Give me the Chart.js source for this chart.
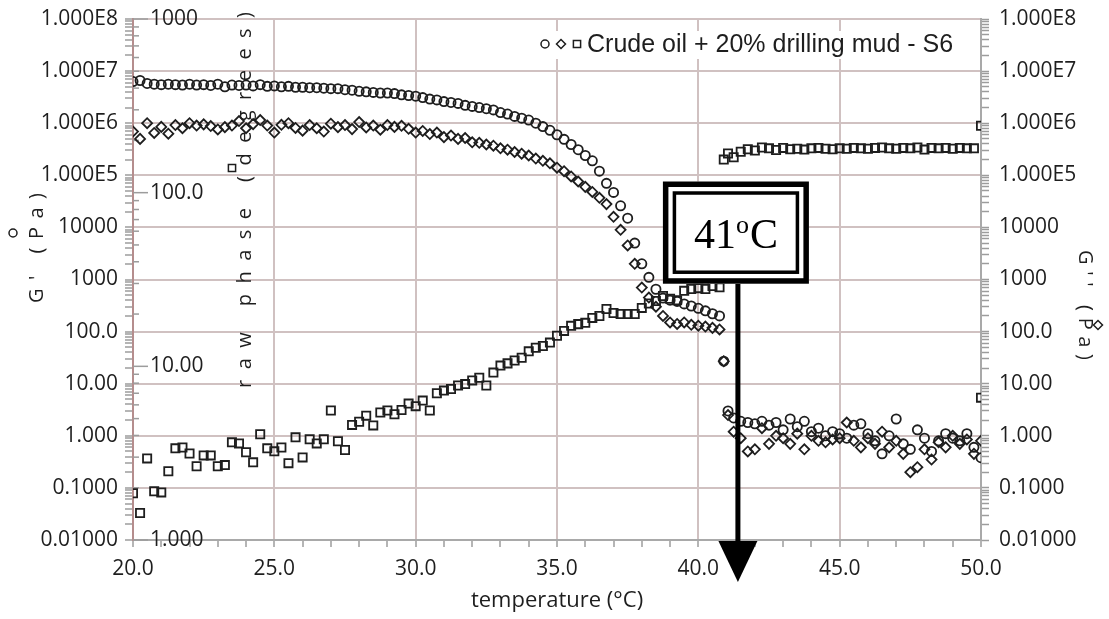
<!DOCTYPE html>
<html>
<head>
<meta charset="utf-8">
<script src="https://cdn.jsdelivr.net/npm/chart.js@4.4.1/dist/chart.umd.min.js"></script>
<style>
  html, body { margin: 0; padding: 0; background: #fff; }
  #wrap { width: 1109px; height: 619px; }
</style>
</head>
<body>
<div id="wrap"><canvas id="rheo" width="1109" height="619"></canvas></div>
<script>
// temperature (°C) of each measurement
const temps = [
  20.00, 20.25, 20.50, 20.75, 21.00, 21.25, 21.50, 21.75,
  22.00, 22.25, 22.50, 22.75, 23.00, 23.25, 23.50, 23.75,
  24.00, 24.25, 24.50, 24.75, 25.00, 25.25, 25.50, 25.75,
  26.00, 26.25, 26.50, 26.75, 27.00, 27.25, 27.50, 27.75,
  28.00, 28.25, 28.50, 28.75, 29.00, 29.25, 29.50, 29.75,
  30.00, 30.25, 30.50, 30.75, 31.00, 31.25, 31.50, 31.75,
  32.00, 32.25, 32.50, 32.75, 33.00, 33.25, 33.50, 33.75,
  34.00, 34.25, 34.50, 34.75, 35.00, 35.25, 35.50, 35.75,
  36.00, 36.25, 36.50, 36.75, 37.00, 37.25, 37.50, 37.75,
  38.00, 38.25, 38.50, 38.75, 39.00, 39.25, 39.50, 39.75,
  40.00, 40.25, 40.50, 40.75, 40.90, 41.05,
  41.25, 41.50, 41.75, 42.00, 42.25, 42.50, 42.75, 43.00,
  43.25, 43.50, 43.75, 44.00, 44.25, 44.50, 44.75, 45.00,
  45.25, 45.50, 45.75, 46.00, 46.25, 46.50, 46.75, 47.00,
  47.25, 47.50, 47.75, 48.00, 48.25, 48.50, 48.75, 49.00,
  49.25, 49.50, 49.75, 50.00
];

// G' (Pa) - circles
const gPrime = [
  6.3e6, 6.6e6, 5.8e6, 5.6e6, 5.5e6, 5.6e6, 5.5e6, 5.4e6,
  5.6e6, 5.4e6, 5.5e6, 5.3e6, 5.6e6, 5.0e6, 5.4e6, 5.3e6,
  5.4e6, 5.2e6, 5.5e6, 5.1e6, 5.2e6, 5.0e6, 5.1e6, 4.9e6,
  4.9e6, 4.8e6, 4.8e6, 4.7e6, 4.6e6, 4.6e6, 4.4e6, 4.3e6,
  4.1e6, 4.0e6, 3.9e6, 3.8e6, 3.8e6, 3.7e6, 3.5e6, 3.4e6,
  3.3e6, 3.1e6, 2.9e6, 2.8e6, 2.6e6, 2.5e6, 2.4e6, 2.2e6,
  2.1e6, 2.0e6, 1.9e6, 1.8e6, 1.6e6, 1.5e6, 1.35e6, 1.25e6,
  1.15e6, 1.0e6, 8.6e5, 7.3e5, 6.0e5, 4.9e5, 3.9e5, 3.1e5,
  2.4e5, 1.9e5, 1.2e5, 7.0e4, 4.7e4, 2.6e4, 1.5e4, 5.0e3,
  2.0e3, 1.1e3, 650, 440, 400, 380, 340, 310,
  280, 250, 220, 200, 27, 3.0,
  2.2, 1.9, 1.8, 1.7, 1.9, 1.6, 1.8, 1.3,
  2.1, 1.5, 1.9, 1.2, 1.4, 1.0, 1.2, 1.1,
  0.9, 1.6, 1.7, 1.1, 0.8, 0.45, 1.0, 2.1,
  0.7, 0.55, 1.3, 0.9, 0.5, 0.8, 1.1, 0.9,
  0.8, 1.1, 0.6, 0.38
];

// G'' (Pa) - diamonds
const gDouble = [
  6.9e5, 5.0e5, 1.0e6, 6.5e5, 8.5e5, 6.3e5, 9.2e5, 8.0e5,
  1.0e6, 9.0e5, 9.5e5, 8.8e5, 7.6e5, 8.4e5, 9.0e5, 1.1e6,
  8.0e5, 9.6e5, 1.15e6, 9.0e5, 6.6e5, 9.3e5, 1.0e6, 8.1e5,
  7.2e5, 9.2e5, 8.0e5, 6.9e5, 9.8e5, 8.4e5, 9.2e5, 7.7e5,
  1.05e6, 8.3e5, 9.0e5, 7.5e5, 9.2e5, 8.5e5, 8.9e5, 7.8e5,
  6.6e5, 7.1e5, 6.2e5, 6.6e5, 5.4e5, 5.8e5, 5.0e5, 5.2e5,
  4.3e5, 4.2e5, 3.9e5, 3.7e5, 3.3e5, 3.1e5, 2.8e5, 2.6e5,
  2.4e5, 2.1e5, 1.9e5, 1.7e5, 1.4e5, 1.2e5, 9.5e4, 7.6e4,
  6.0e4, 4.8e4, 3.7e4, 2.8e4, 1.6e4, 9.0e3, 4.5e3, 2.0e3,
  700, 450, 300, 200, 150, 140, 150, 135,
  130, 125, 118, 110, 27, 2.5,
  1.2, 0.9, 0.5, 0.55, 1.4, 0.7, 1.0, 0.9,
  0.7, 1.1, 0.55, 1.0, 0.8, 0.75, 0.85, 0.9,
  1.8, 0.8, 0.6, 0.9, 0.7, 1.2, 0.6, 0.8,
  0.45, 0.2, 0.25, 0.55, 0.35, 0.75, 0.6, 1.0,
  0.7, 0.85, 0.45, 0.8
];

// raw phase (degrees) - squares
const rawPhase = [
  1.86, 1.43, 2.95, 1.91, 1.88, 2.49, 3.37, 3.41,
  3.15, 2.66, 3.07, 3.07, 2.66, 2.70, 3.65, 3.60,
  3.20, 2.80, 4.06, 3.37, 3.24, 3.41, 2.77, 3.90,
  2.99, 3.80, 3.60, 3.80, 5.57, 3.70, 3.30, 4.60,
  4.80, 5.20, 4.57, 5.42, 5.57, 5.30, 5.60, 6.10,
  5.90, 6.35, 5.57, 7.00, 7.25, 7.40, 7.75, 7.90,
  8.30, 8.60, 7.75, 9.20, 10.1, 10.4, 10.8, 11.2,
  12.2, 12.8, 13.1, 13.7, 15.0, 16.0, 17.1, 17.5,
  17.8, 19.0, 19.5, 21.4, 20.3, 20.0, 20.0, 20.0,
  21.7, 23.0, 23.8, 25.4, 24.5, 24.0, 27.2, 27.9,
  28.2, 27.9, 29.0, 28.5, 155, 168,
  160, 172, 178, 175, 182, 180, 176, 181,
  178, 179, 177, 180, 181, 179, 178, 180,
  179, 181, 180, 179, 181, 182, 180, 179,
  181, 180, 182, 177, 181, 180, 181, 179,
  181, 180, 180, 243
];
// one more phase reading at the last temperature
const phaseExtraTemps = [50.0];
const phaseExtra = [6.6];

// tick labels
const xTickValues = [20, 25, 30, 35, 40, 45, 50];
const xTickLabels = ['20.0', '25.0', '30.0', '35.0', '40.0', '45.0', '50.0'];
const yTickLabels = ['0.01000', '0.1000', '1.000', '10.00', '100.0', '1000', '10000',
  '1.000E5', '1.000E6', '1.000E7', '1.000E8'];
const phaseTickValues = [1, 10, 100, 1000];
const phaseTickLabels = ['1.000', '10.00', '100.0', '1000'];

const legendText = 'Crude oil + 20% drilling mud - S6';
const markerTemp = 41.4;       // arrow position
const boxTopValue = 7.6e4;     // annotation box, in G' units
const boxBottomValue = 8.3e2;

const ink = '#1e1e1e';
const gridColor = '#d0c1c1';
const leftAxisColor = '#b58d8d';
const tickGray = '#9c9c9c';
const labelFont = { family: "'Open Sans', sans-serif", size: 21, lineHeight: '18px' };

const isDecade = v => Math.abs(Math.log10(v) - Math.round(Math.log10(v))) < 1e-9;

const logTicks = [];
for (let e = -2; e < 8; e++) {
  for (let m = 1; m <= 9; m++) logTicks.push(Number((m * Math.pow(10, e)).toPrecision(6)));
}
logTicks.push(1e8);

function spacedText(ctx, text, cx, cy, angle, span, font) {
  ctx.save();
  ctx.font = font;
  ctx.fillStyle = ink;
  ctx.translate(cx, cy);
  ctx.rotate(angle);
  const chars = [...text];
  const widths = chars.map(c => ctx.measureText(c).width);
  const natural = widths.reduce((a, b) => a + b, 0);
  const gap = (span - natural) / (chars.length - 1);
  ctx.textBaseline = 'middle';
  ctx.textAlign = 'left';
  let x = -span / 2;
  chars.forEach((c, i) => { ctx.fillText(c, x, 0); x += widths[i] + gap; });
  ctx.restore();
}

function marker(ctx, style, x, y, r) {
  ctx.save();
  ctx.strokeStyle = ink;
  ctx.lineWidth = 1.5;
  ctx.beginPath();
  if (style === 'circle') ctx.arc(x, y, r, 0, Math.PI * 2);
  if (style === 'diamond') { ctx.moveTo(x, y - r); ctx.lineTo(x + r, y); ctx.lineTo(x, y + r); ctx.lineTo(x - r, y); ctx.closePath(); }
  if (style === 'square') ctx.rect(x - r, y - r, 2 * r, 2 * r);
  ctx.stroke();
  ctx.restore();
}

const overlay = {
  id: 'overlay',
  beforeDatasetsDraw(chart) {
    const ctx = chart.ctx;
    // legend box inside the plot
    ctx.save();
    ctx.fillStyle = '#fff';
    ctx.fillRect(535, 31, 422, 28);
    marker(ctx, 'circle', 545, 44, 4);
    marker(ctx, 'diamond', 561, 44, 4.5);
    marker(ctx, 'square', 577, 44, 3.6);
    ctx.font = '25px "Liberation Sans", Arial, sans-serif';
    ctx.fillStyle = ink;
    ctx.textBaseline = 'middle';
    ctx.fillText(legendText, 587, 45);
    ctx.restore();

    // raw phase axis, drawn inside the left edge
    const yP = chart.scales.yP;
    const left = chart.chartArea.left;
    ctx.save();
    ctx.strokeStyle = tickGray;
    ctx.lineWidth = 1.5;
    for (let e = 0; e < 3; e++) {
      for (let m = 2; m <= 9; m++) {
        const y = yP.getPixelForValue(m * Math.pow(10, e));
        ctx.beginPath(); ctx.moveTo(left, y); ctx.lineTo(left + 6, y); ctx.stroke();
      }
    }
    ctx.font = "21px 'Open Sans', sans-serif";
    ctx.fillStyle = ink;
    ctx.textBaseline = 'middle';
    phaseTickValues.forEach((v, i) => {
      const y = yP.getPixelForValue(v);
      ctx.beginPath(); ctx.moveTo(left, y); ctx.lineTo(left + 15, y); ctx.stroke();
      ctx.fillText(phaseTickLabels[i], left + 17, y);
    });
    ctx.restore();
  },
  afterDraw(chart) {
    const ctx = chart.ctx;
    const titleFont = "20px 'Open Sans', sans-serif";
    spacedText(ctx, "G' (Pa)", 37, 248, -Math.PI / 2, 110, titleFont);
    marker(ctx, 'circle', 13, 233, 4);
    spacedText(ctx, 'raw phase (degrees)', 245, 200, -Math.PI / 2, 376, titleFont);
    marker(ctx, 'square', 232, 168, 3.6);
    spacedText(ctx, "G'' (Pa)", 1085, 305, Math.PI / 2, 110, titleFont);
    marker(ctx, 'diamond', 1098, 325, 4.5);

    // 41 °C annotation with arrow
    const ax = chart.scales.x.getPixelForValue(markerTemp);
    const top = chart.scales.y.getPixelForValue(boxTopValue);
    const bottom = chart.scales.y.getPixelForValue(boxBottomValue);
    const cx = ax - 2;
    const half = 73;
    const bottomEdge = chart.chartArea.bottom;
    ctx.save();
    ctx.fillStyle = '#000';
    ctx.fillRect(ax - 2.5, bottom, 5, bottomEdge - bottom + 4);
    ctx.beginPath();
    ctx.moveTo(ax - 19.5, bottomEdge + 1);
    ctx.lineTo(ax + 19.5, bottomEdge + 1);
    ctx.lineTo(ax, bottomEdge + 42);
    ctx.closePath();
    ctx.fill();

    ctx.fillStyle = '#fff';
    ctx.fillRect(cx - half, top, 2 * half, bottom - top);
    ctx.strokeStyle = '#000';
    ctx.lineWidth = 5.5;
    ctx.strokeRect(cx - half + 2.75, top + 2.75, 2 * half - 5.5, bottom - top - 5.5);
    ctx.lineWidth = 3.5;
    ctx.strokeRect(cx - half + 11.5, top + 11.5, 2 * half - 23, bottom - top - 23);

    ctx.fillStyle = '#000';
    ctx.textBaseline = 'alphabetic';
    ctx.textAlign = 'left';
    const big = '42px "Liberation Serif", "Times New Roman", serif';
    const small = '26px "Liberation Serif", "Times New Roman", serif';
    ctx.font = big;
    const w41 = ctx.measureText('41').width;
    const wC = ctx.measureText('C').width;
    ctx.font = small;
    const wo = ctx.measureText('o').width;
    const total = w41 + wo + 1 + wC;
    const base = (top + bottom) / 2 + 15;
    let x = cx - total / 2;
    ctx.font = big;
    ctx.fillText('41', x, base);
    x += w41;
    ctx.font = small;
    ctx.fillText('o', x, base - 15);
    x += wo + 1;
    ctx.font = big;
    ctx.fillText('C', x, base);
    ctx.restore();
  }
};

const points = (xs, ys) => xs.map((t, i) => ({ x: t, y: ys[i] }));

const scatterStyle = {
  showLine: false,
  pointBorderColor: ink,
  pointBackgroundColor: 'transparent',
  pointBorderWidth: 1.8
};

new Chart(document.getElementById('rheo'), {
  type: 'scatter',
  data: {
    datasets: [
      Object.assign({ label: "G'", data: points(temps, gPrime), yAxisID: 'y',
        pointStyle: 'circle', pointRadius: 4.6 }, scatterStyle),
      Object.assign({ label: "G''", data: points(temps, gDouble), yAxisID: 'yR',
        pointStyle: 'rectRot', pointRadius: 5 }, scatterStyle),
      Object.assign({ label: 'raw phase', yAxisID: 'yP',
        data: points(temps, rawPhase).concat(points(phaseExtraTemps, phaseExtra)),
        pointStyle: 'rect', pointRadius: 5.8 }, scatterStyle)
    ]
  },
  options: {
    responsive: false,
    animation: false,
    events: [],
    layout: { padding: 0 },
    plugins: { legend: { display: false }, tooltip: { enabled: false } },
    scales: {
      x: {
        type: 'linear', position: 'bottom', min: 20, max: 50,
        ticks: {
          stepSize: 1, autoSkip: false, maxRotation: 0, padding: 9, color: ink,
          font: { family: "'Open Sans', sans-serif", size: 21 },
          callback: v => { const i = xTickValues.indexOf(v); return i >= 0 ? xTickLabels[i] : ''; }
        },
        grid: {
          color: c => !c.tick ? 'transparent' : (c.tick.value === 20 ? leftAxisColor :
            (c.tick.value % 5 === 0 ? gridColor : 'transparent')),
          lineWidth: 2, tickLength: 7, tickColor: tickGray, tickWidth: 1.5
        },
        border: { color: '#a9a9a9', width: 2 },
        title: {
          display: true, text: 'temperature (°C)', color: ink,
          font: { family: "'Open Sans', sans-serif", size: 22 },
          padding: { top: 0, bottom: 5 }
        },
        afterFit: s => { s.height = 79; }
      },
      y: {
        type: 'logarithmic', position: 'left', min: 0.01, max: 1e8,
        afterBuildTicks: s => { s.ticks = logTicks.map(v => ({ value: v })); },
        ticks: {
          autoSkip: false, padding: 7, color: ink, font: labelFont,
          callback: v => isDecade(v) ? yTickLabels[Math.round(Math.log10(v)) + 2] : ''
        },
        grid: {
          color: c => c.tick && isDecade(c.tick.value) ? gridColor : 'transparent',
          lineWidth: 2, tickLength: 8, tickColor: tickGray, tickWidth: 1.5
        },
        border: { color: leftAxisColor, width: 2 },
        afterFit: s => { s.width = 133; }
      },
      yR: {
        type: 'logarithmic', position: 'right', min: 0.01, max: 1e8,
        afterBuildTicks: s => { s.ticks = logTicks.map(v => ({ value: v })); },
        ticks: {
          autoSkip: false, padding: 10, color: ink, font: labelFont,
          callback: v => isDecade(v) ? yTickLabels[Math.round(Math.log10(v)) + 2] : ''
        },
        grid: { drawOnChartArea: false, tickLength: 8, tickColor: tickGray, tickWidth: 1.5 },
        border: { color: '#a9a9a9', width: 2 },
        afterFit: s => { s.width = 128; }
      },
      yP: { type: 'logarithmic', position: 'left', min: 1, max: 1000, display: false }
    }
  },
  plugins: [overlay]
});
</script>
</body>
</html>
